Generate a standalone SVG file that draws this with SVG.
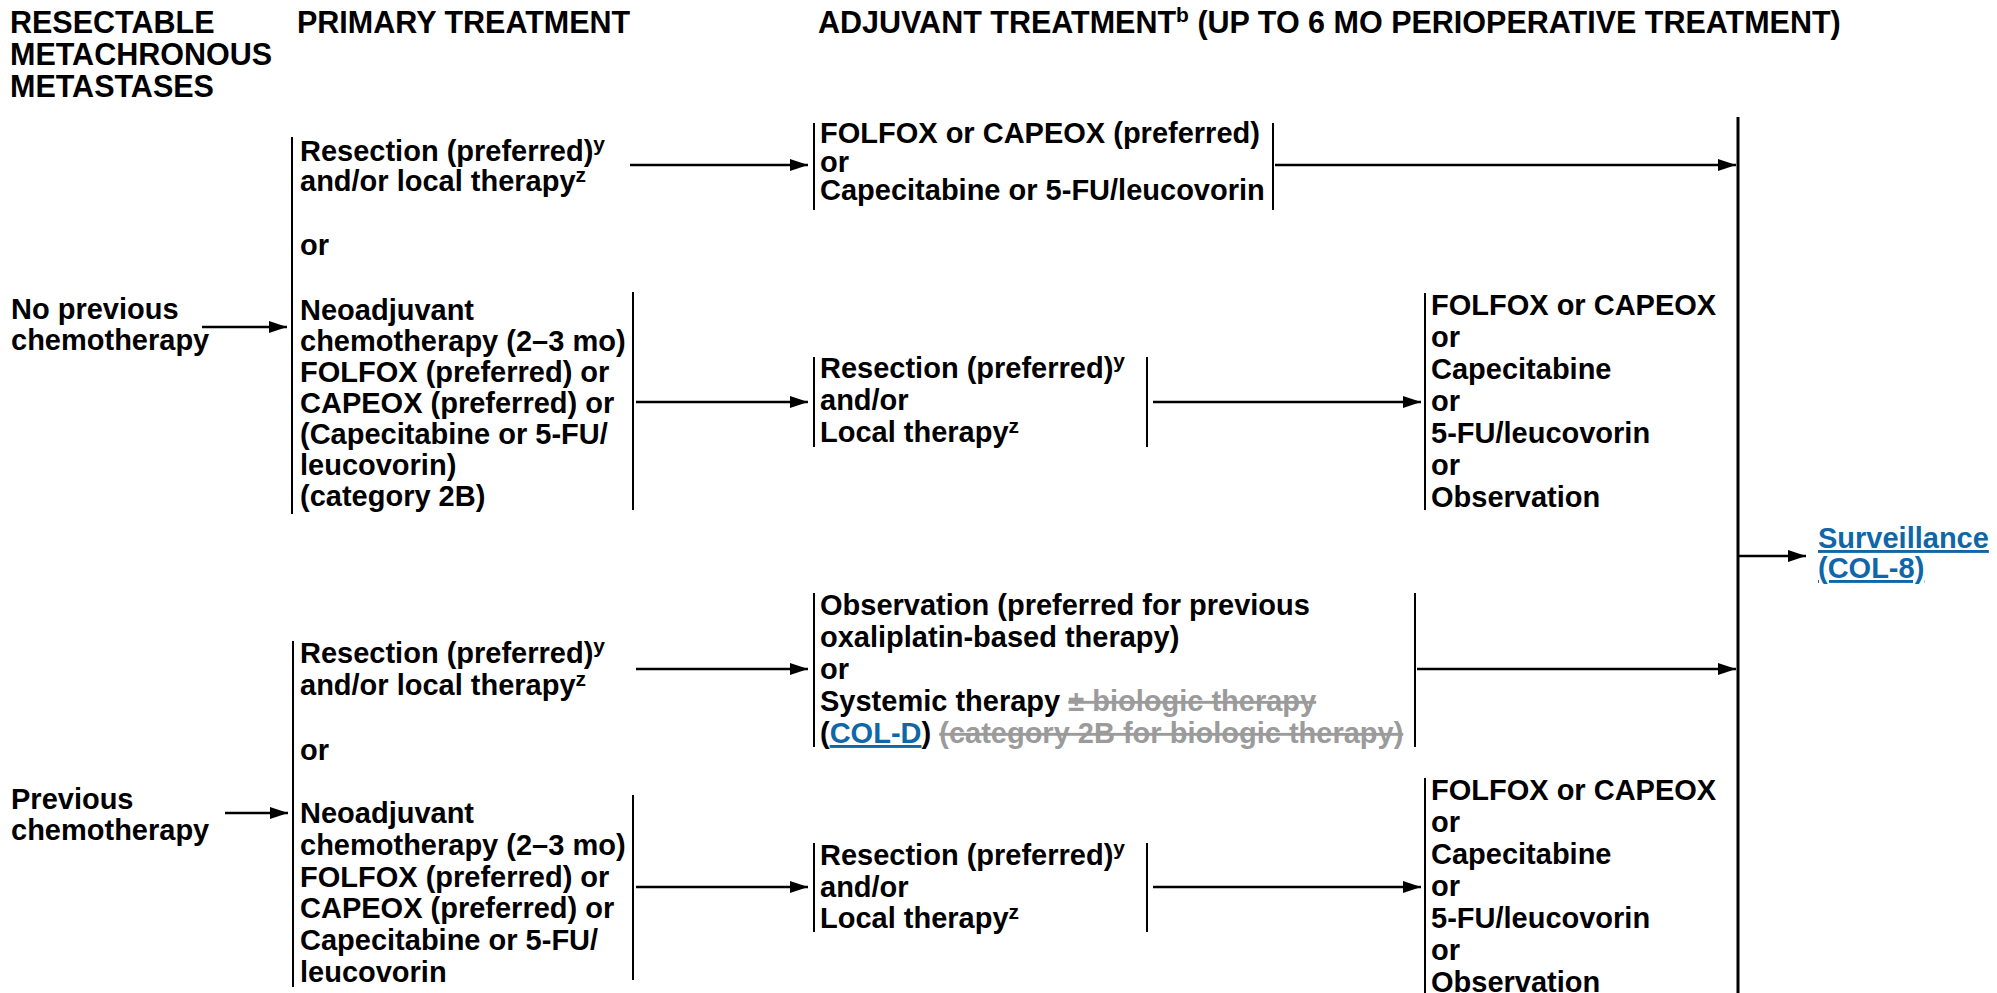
<svg xmlns="http://www.w3.org/2000/svg" width="1997" height="993" viewBox="0 0 1997 993">
<style>
text{font-family:"Liberation Sans",Arial,sans-serif;font-weight:bold;fill:#000}
.h{font-size:30.5px}
.t{font-size:29px}
.sup{font-size:21px}
.link{fill:#0f67a8;text-decoration:underline}
.strike{fill:#9b9b9b;text-decoration:line-through}
.br{stroke:#000;stroke-width:2;fill:none}
.ar{stroke:#000;stroke-width:2.6;fill:none;marker-end:url(#ah)}
</style>
<defs>
<marker id="ah" markerUnits="userSpaceOnUse" markerWidth="18" markerHeight="12" refX="18" refY="6" orient="auto">
<path d="M0,0 L18,6 L0,12 z" fill="#000"/>
</marker>
</defs>
<rect width="1997" height="993" fill="#fff"/>

<g id="headers">
<text class="h" x="10" y="33">RESECTABLE</text>
<text class="h" x="10" y="65">METACHRONOUS</text>
<text class="h" x="10" y="97">METASTASES</text>
<text class="h" x="297" y="33">PRIMARY TREATMENT</text>
<text class="h" x="818" y="33">ADJUVANT TREATMENT<tspan class="sup" dy="-11" font-size="22">b</tspan><tspan dy="11"> (UP TO 6 MO PERIOPERATIVE TREATMENT)</tspan></text>
</g>

<g id="no-previous">
<text class="t" x="11" y="319">No previous</text>
<text class="t" x="11" y="350">chemotherapy</text>
</g>

<g id="previous">
<text class="t" x="11" y="809">Previous</text>
<text class="t" x="11" y="840">chemotherapy</text>
</g>

<g id="primary-top">
<line class="br" x1="292" y1="137" x2="292" y2="514"/>
<text class="t" x="300" y="161">Resection (preferred)<tspan class="sup" dy="-10">y</tspan></text>
<text class="t" x="300" y="191">and/or local therapy<tspan class="sup" dy="-9">z</tspan></text>
<text class="t" x="300" y="255">or</text>
</g>

<g id="neoadj-top">
<line class="br" x1="633" y1="292" x2="633" y2="510"/>
<text class="t" x="300" y="320">Neoadjuvant</text>
<text class="t" x="300" y="351">chemotherapy (2–3 mo)</text>
<text class="t" x="300" y="382">FOLFOX (preferred) or</text>
<text class="t" x="300" y="413">CAPEOX (preferred) or</text>
<text class="t" x="300" y="444">(Capecitabine or 5-FU/</text>
<text class="t" x="300" y="475">leucovorin)</text>
<text class="t" x="300" y="506">(category 2B)</text>
</g>

<g id="adjuvant-top">
<line class="br" x1="814" y1="123" x2="814" y2="210"/>
<line class="br" x1="1273" y1="123" x2="1273" y2="210"/>
<text class="t" x="820" y="143">FOLFOX or CAPEOX (preferred)</text>
<text class="t" x="820" y="172">or</text>
<text class="t" x="820" y="200">Capecitabine or 5-FU/leucovorin</text>
</g>

<g id="resection-mid">
<line class="br" x1="814" y1="357" x2="814" y2="447"/>
<line class="br" x1="1147" y1="357" x2="1147" y2="447"/>
<text class="t" x="820" y="378">Resection (preferred)<tspan class="sup" dy="-10">y</tspan></text>
<text class="t" x="820" y="410">and/or</text>
<text class="t" x="820" y="442">Local therapy<tspan class="sup" dy="-9">z</tspan></text>
</g>

<g id="adjuvant-mid">
<line class="br" x1="1425" y1="293" x2="1425" y2="510"/>
<text class="t" x="1431" y="315">FOLFOX or CAPEOX</text>
<text class="t" x="1431" y="347">or</text>
<text class="t" x="1431" y="379">Capecitabine</text>
<text class="t" x="1431" y="411">or</text>
<text class="t" x="1431" y="443">5-FU/leucovorin</text>
<text class="t" x="1431" y="475">or</text>
<text class="t" x="1431" y="507">Observation</text>
</g>

<g id="surveillance">
<text class="t link" x="1818" y="548">Surveillance</text>
<text class="t link" x="1818" y="578">(COL-8)</text>
</g>

<g id="primary-bottom">
<line class="br" x1="293" y1="641" x2="293" y2="987"/>
<text class="t" x="300" y="663">Resection (preferred)<tspan class="sup" dy="-10">y</tspan></text>
<text class="t" x="300" y="695">and/or local therapy<tspan class="sup" dy="-9">z</tspan></text>
<text class="t" x="300" y="760">or</text>
</g>

<g id="neoadj-bottom">
<line class="br" x1="633" y1="795" x2="633" y2="980"/>
<text class="t" x="300" y="823">Neoadjuvant</text>
<text class="t" x="300" y="855">chemotherapy (2–3 mo)</text>
<text class="t" x="300" y="887">FOLFOX (preferred) or</text>
<text class="t" x="300" y="918">CAPEOX (preferred) or</text>
<text class="t" x="300" y="950">Capecitabine or 5-FU/</text>
<text class="t" x="300" y="982">leucovorin</text>
</g>

<g id="observation-bottom">
<line class="br" x1="814" y1="593" x2="814" y2="747"/>
<line class="br" x1="1415" y1="593" x2="1415" y2="747"/>
<text class="t" x="820" y="615">Observation (preferred for previous</text>
<text class="t" x="820" y="647">oxaliplatin-based therapy)</text>
<text class="t" x="820" y="679">or</text>
<text class="t" x="820" y="711">Systemic therapy <tspan class="strike">± biologic therapy</tspan></text>
<text class="t" x="820" y="743">(<tspan class="link">COL-D</tspan>) <tspan class="strike">(category 2B for biologic therapy)</tspan></text>
</g>

<g id="resection-bottom">
<line class="br" x1="814" y1="843" x2="814" y2="932"/>
<line class="br" x1="1147" y1="843" x2="1147" y2="932"/>
<text class="t" x="820" y="865">Resection (preferred)<tspan class="sup" dy="-10">y</tspan></text>
<text class="t" x="820" y="897">and/or</text>
<text class="t" x="820" y="928">Local therapy<tspan class="sup" dy="-9">z</tspan></text>
</g>

<g id="adjuvant-bottom">
<line class="br" x1="1425" y1="778" x2="1425" y2="993"/>
<text class="t" x="1431" y="800">FOLFOX or CAPEOX</text>
<text class="t" x="1431" y="832">or</text>
<text class="t" x="1431" y="864">Capecitabine</text>
<text class="t" x="1431" y="896">or</text>
<text class="t" x="1431" y="928">5-FU/leucovorin</text>
<text class="t" x="1431" y="960">or</text>
<text class="t" x="1431" y="992">Observation</text>
</g>

<g id="connectors">
<line x1="1738" y1="117" x2="1738" y2="993" stroke="#000" stroke-width="3"/>
<line class="ar" x1="202" y1="327" x2="287" y2="327"/>
<line class="ar" x1="630" y1="165" x2="808" y2="165"/>
<line class="ar" x1="1275" y1="165" x2="1736" y2="165"/>
<line class="ar" x1="636" y1="402" x2="808" y2="402"/>
<line class="ar" x1="1153" y1="402" x2="1421" y2="402"/>
<line class="ar" x1="1739" y1="556" x2="1806" y2="556"/>
<line class="ar" x1="225" y1="813" x2="288" y2="813"/>
<line class="ar" x1="636" y1="669" x2="808" y2="669"/>
<line class="ar" x1="1417" y1="669" x2="1736" y2="669"/>
<line class="ar" x1="636" y1="887" x2="808" y2="887"/>
<line class="ar" x1="1153" y1="887" x2="1421" y2="887"/>
</g>
</svg>
